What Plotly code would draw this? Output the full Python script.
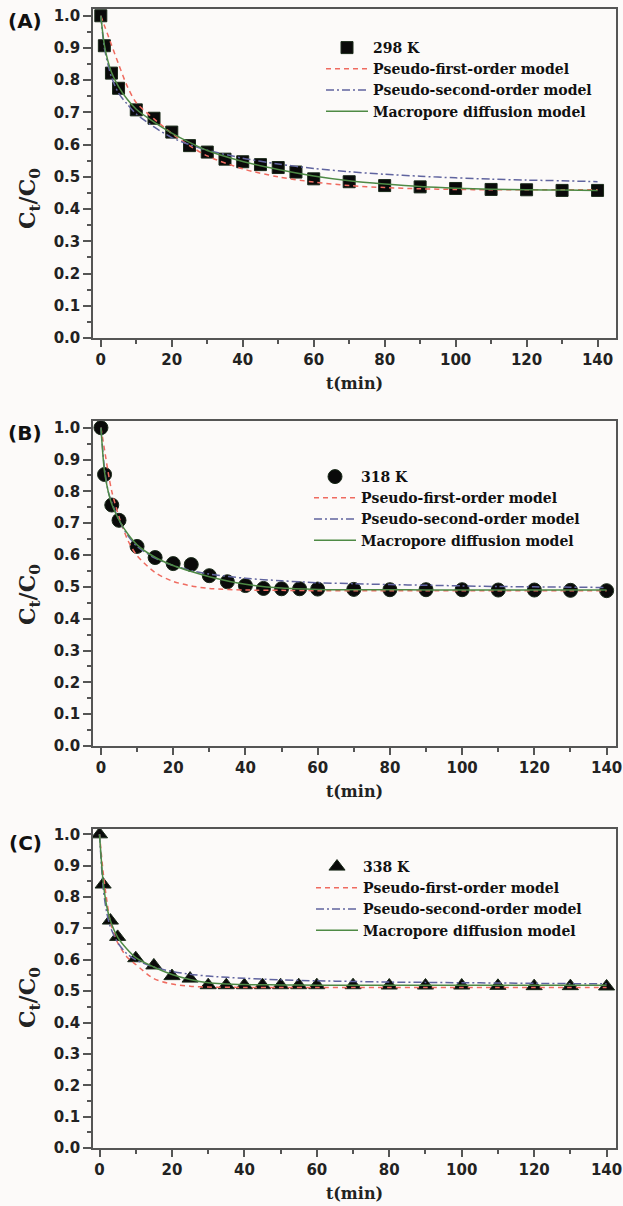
import plotly.graph_objects as go

# ---------------- data ----------------
t_exp = [0, 1, 3, 5, 10, 15, 20, 25, 30, 35, 40, 45, 50, 55, 60, 70, 80, 90, 100, 110, 120, 130, 140]
c_298 = [1.0, 0.907, 0.822, 0.775, 0.708, 0.682, 0.639, 0.597, 0.577, 0.555, 0.547, 0.538, 0.529, 0.515,
         0.494, 0.485, 0.473, 0.469, 0.464, 0.461, 0.460, 0.458, 0.458]
c_318 = [1.0, 0.853, 0.757, 0.709, 0.627, 0.592, 0.573, 0.570, 0.535, 0.516, 0.504, 0.495, 0.494, 0.494,
         0.493, 0.492, 0.491, 0.491, 0.491, 0.490, 0.490, 0.489, 0.488]
c_338 = [1.0, 0.840, 0.725, 0.673, 0.605, 0.582, 0.548, 0.540, 0.519, 0.519, 0.519, 0.519, 0.519, 0.519,
         0.519, 0.519, 0.518, 0.518, 0.518, 0.517, 0.516, 0.516, 0.515]

t_mod = [0, 1, 2, 3, 5, 7.5, 10, 15, 20, 25, 30, 40, 50, 60, 70, 80, 90, 100, 110, 120, 130, 140]
pfo_298 = [1.0, 0.97, 0.94, 0.91, 0.85, 0.78, 0.73, 0.68, 0.635, 0.597, 0.565, 0.525, 0.50, 0.484, 0.473,
           0.467, 0.463, 0.461, 0.460, 0.460, 0.460, 0.460]
pso_298 = [1.0, 0.90, 0.85, 0.81, 0.76, 0.725, 0.695, 0.655, 0.622, 0.60, 0.583, 0.558, 0.54, 0.526, 0.516,
           0.508, 0.502, 0.497, 0.493, 0.490, 0.488, 0.485]
mac_298 = [1.0, 0.91, 0.86, 0.825, 0.78, 0.74, 0.71, 0.67, 0.636, 0.607, 0.582, 0.548, 0.523, 0.503, 0.488,
           0.478, 0.470, 0.465, 0.462, 0.460, 0.459, 0.458]

pfo_318 = [1.0, 0.93, 0.86, 0.80, 0.72, 0.645, 0.598, 0.545, 0.517, 0.503, 0.495, 0.490, 0.489, 0.488, 0.488,
           0.488, 0.488, 0.488, 0.488, 0.488, 0.488, 0.488]
pso_318 = [1.0, 0.87, 0.80, 0.765, 0.71, 0.66, 0.627, 0.59, 0.567, 0.551, 0.54, 0.527, 0.519, 0.513, 0.510,
           0.507, 0.505, 0.503, 0.501, 0.500, 0.499, 0.498]
mac_318 = [1.0, 0.86, 0.80, 0.76, 0.71, 0.665, 0.632, 0.593, 0.567, 0.548, 0.532, 0.508, 0.496, 0.492, 0.491,
           0.491, 0.490, 0.490, 0.490, 0.490, 0.490, 0.490]

pfo_338 = [1.0, 0.88, 0.79, 0.72, 0.655, 0.61, 0.585, 0.54, 0.523, 0.516, 0.513, 0.512, 0.512, 0.512, 0.512,
           0.512, 0.512, 0.512, 0.512, 0.512, 0.512, 0.512]
pso_338 = [1.0, 0.83, 0.75, 0.705, 0.655, 0.62, 0.60, 0.577, 0.563, 0.554, 0.548, 0.541, 0.536, 0.533, 0.531,
           0.529, 0.528, 0.527, 0.526, 0.525, 0.524, 0.524]
mac_338 = [1.0, 0.85, 0.77, 0.725, 0.672, 0.635, 0.607, 0.577, 0.553, 0.537, 0.527, 0.521, 0.520, 0.519, 0.519,
           0.519, 0.519, 0.519, 0.519, 0.519, 0.519, 0.519]

panels = [
    dict(tag="(A)", label="298 K", sym="square", size=12, data=c_298, pfo=pfo_298, pso=pso_298, mac=mac_298),
    dict(tag="(B)", label="318 K", sym="circle", size=14, data=c_318, pfo=pfo_318, pso=pso_318, mac=mac_318),
    dict(tag="(C)", label="338 K", sym="triangle-up", size=14, data=c_338, pfo=pfo_338, pso=pso_338, mac=mac_338),
]
model_names = ["Pseudo-first-order model", "Pseudo-second-order model", "Macropore diffusion model"]
y_ticks = [0.0, 0.1, 0.2, 0.3, 0.4, 0.5, 0.6, 0.7, 0.8, 0.9, 1.0]
x_ticks = [0, 20, 40, 60, 80, 100, 120, 140]

# ---------------- layout geometry (pixels) ----------------
W, H = 623, 1206
BG = "#fcfaf9"
RED, BLUE, GREEN = "#ef6b60", "#60649f", "#4e8a45"
AX = "#555555"
xpix = (93, 616)
ypix = [(9, 338), (421, 746), (829, 1148)]
xranges = [[-2.2, 145.2], [-2.2, 142.6], [-1.8, 142.6]]
yranges = [[0, 1.021], [0, 1.021], [0, 1.017]]
legend_pos = [(321, 32), (309, 461), (311, 851)]
tag_pos = [(25, 21), (25, 433), (25, 843)]
ytitle_pos = [(29, 199), (29, 595), (29, 998)]

fig = go.Figure()
sans = "DejaVu Sans"
serif = "DejaVu Serif"

for i, p in enumerate(panels):
    n = "" if i == 0 else str(i + 1)
    xa, ya = "x" + n, "y" + n
    leg = "legend" + n
    fig.add_trace(go.Scatter(
        x=t_exp, y=p["data"], mode="markers", name=p["label"], xaxis=xa, yaxis=ya, legend=leg,
        marker=dict(symbol=p["sym"], size=p["size"], color="#0a0a0a", line=dict(color="#1a2a1a", width=1))))
    for name, vals, col, dash in zip(model_names, [p["pfo"], p["pso"], p["mac"]],
                                     [RED, BLUE, GREEN], ["5px,4px", "8px,3px,2px,3px", "solid"]):
        fig.add_trace(go.Scatter(
            x=t_mod, y=vals, mode="lines", name=name, xaxis=xa, yaxis=ya, legend=leg,
            line=dict(color=col, width=1.5, dash=dash, shape="spline", smoothing=0.8)))

    dom_x = [xpix[0] / W, xpix[1] / W]
    dom_y = [1 - ypix[i][1] / H, 1 - ypix[i][0] / H]
    axis_common = dict(showline=True, linecolor=AX, linewidth=1.5, mirror=True, showgrid=False,
                       zeroline=False, ticks="outside", tickcolor=AX, tickwidth=1.5,
                       ticklabeloverflow="allow", automargin=False,
                       tickfont=dict(family=sans, size=15, color="#222222", weight="bold"))
    fig.layout["xaxis" + n] = dict(
        axis_common, domain=dom_x, range=xranges[i], anchor=ya, tickvals=x_ticks, ticklen=7,
        minor=dict(dtick=10, tick0=0, ticks="outside", ticklen=4, tickcolor=AX, tickwidth=1.5),
        title=dict(text="t(min)", font=dict(family=serif, size=16, color="#222222", weight="bold"), standoff=10))
    fig.layout["yaxis" + n] = dict(
        axis_common, domain=dom_y, range=yranges[i], anchor=xa, tickvals=y_ticks, tickformat=".1f", ticklen=8,
        minor=dict(dtick=0.05, tick0=0, ticks="outside", ticklen=4, tickcolor=AX, tickwidth=1.5))
    lx, ly = legend_pos[i]
    fig.layout[leg] = dict(x=lx / W, y=1 - ly / H, xanchor="left", yanchor="top", bgcolor="rgba(0,0,0,0)",
                           borderwidth=0, itemwidth=42, tracegroupgap=0,
                           font=dict(family=serif, size=14, color="#111111", weight="bold"))
    tx, ty = tag_pos[i]
    fig.add_annotation(x=tx / W, y=1 - ty / H, xref="paper", yref="paper", text=p["tag"], showarrow=False,
                       font=dict(family=sans, size=20, color="#111111", weight="bold"),
                       xanchor="center", yanchor="middle")
    yx, yy = ytitle_pos[i]
    fig.add_annotation(x=yx / W, y=1 - yy / H, xref="paper", yref="paper", text="C<sub>t</sub>/C<sub>0</sub>",
                       showarrow=False, textangle=-90,
                       font=dict(family=serif, size=22, color="#222222", weight="bold"),
                       xanchor="center", yanchor="middle")

fig.update_layout(width=W, height=H, margin=dict(l=0, r=0, t=0, b=0, autoexpand=False),
                  paper_bgcolor=BG, plot_bgcolor=BG, showlegend=True)
fig.write_html("out.html")
